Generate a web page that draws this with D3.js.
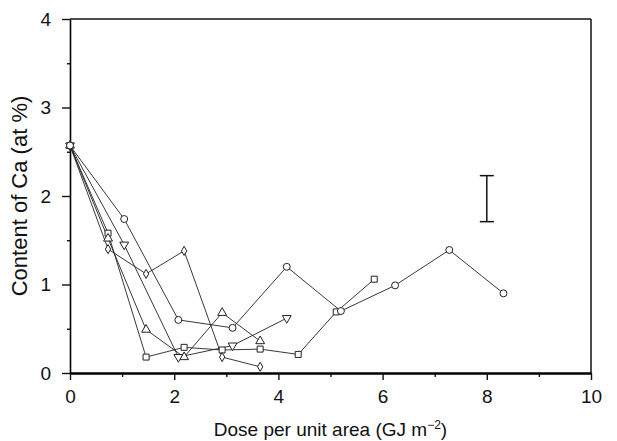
<!DOCTYPE html>
<html>
<head>
<meta charset="utf-8">
<script src="https://cdn.jsdelivr.net/npm/d3@7"></script>
<style>
  body { margin: 0; background: #fff; }
  text { font-family: "Liberation Sans", Arial, sans-serif; fill: #111; }
</style>
</head>
<body>
<div id="area_1"></div>
<script>
// Ca content vs dose, five runs (marker shape per run)
var circle_x = [0, 1.04, 2.08, 3.12, 4.16, 5.2, 6.24, 7.28, 8.32]
var circle_y = [2.57, 1.74, 0.6, 0.51, 1.2, 0.7, 0.99, 1.39, 0.9]

var square_x = [0, 0.73, 1.46, 2.19, 2.92, 3.65, 4.38, 5.11, 5.84]
var square_y = [2.57, 1.58, 0.18, 0.29, 0.26, 0.27, 0.21, 0.69, 1.06]

var triup_x = [0, 0.73, 1.46, 2.19, 2.92, 3.65]
var triup_y = [2.57, 1.52, 0.49, 0.18, 0.68, 0.36]

var tridown_x = [0, 1.04, 2.08, 3.12, 4.16]
var tridown_y = [2.57, 1.45, 0.18, 0.31, 0.62]

var diamond_x = [0, 0.73, 1.46, 2.19, 2.92, 3.65]
var diamond_y = [2.57, 1.4, 1.12, 1.38, 0.18, 0.07]

// error bar shown at x = 8
var errbar_x = 8
var errbar_lo = 1.71, errbar_hi = 2.23

var x_ticks = [0, 2, 4, 6, 8, 10]
var y_ticks = [0, 1, 2, 3, 4]

var margin_top = 19,
margin_right = 26,
margin_bottom = 68,
margin_left = 70

var W = 617, H = 441
var width = W - margin_left - margin_right
var height = H - margin_top - margin_bottom

var svg = d3.select("#area_1")
  .append("svg")
    .attr("width", W)
    .attr("height", H)

var g = svg.append("g")
  .attr("transform", "translate(" + margin_left + "," + margin_top + ")")

var x = d3.scaleLinear().domain([0, 10]).range([0, width])
var y = d3.scaleLinear().domain([0, 4]).range([height, 0])

// minor ticks (odd / half values)
g.append("g")
  .attr("transform", "translate(0," + height + ")")
  .call(d3.axisBottom(x).tickValues(d3.range(1, 10, 2)).tickSize(4).tickFormat(""))
  .call(function(a) { a.select(".domain").remove() })
g.append("g")
  .call(d3.axisLeft(y).tickValues(d3.range(0.5, 4, 1)).tickSize(3).tickFormat(""))
  .call(function(a) { a.select(".domain").remove() })

var xAxis = g.append("g")
  .attr("transform", "translate(0," + height + ")")
  .call(d3.axisBottom(x).tickValues(x_ticks).tickFormat(d3.format("d")).tickSize(7).tickSizeOuter(0).tickPadding(10))
xAxis.select(".domain").attr("stroke-width", 2.4)
xAxis.selectAll("text").attr("font-size", "19px")

var yAxis = g.append("g")
  .call(d3.axisLeft(y).tickValues(y_ticks).tickFormat(d3.format("d")).tickSize(8).tickSizeOuter(0).tickPadding(11))
yAxis.select(".domain").attr("stroke-width", 1.6)
yAxis.selectAll("text").attr("font-size", "19px")

g.selectAll(".tick line").attr("stroke", "#111").attr("stroke-width", 1.4)

// top and right frame
g.append("line")
  .attr("x1", 0).attr("x2", width).attr("y1", 0).attr("y2", 0)
  .attr("stroke", "#111").attr("stroke-width", 1.5)
g.append("line")
  .attr("x1", width).attr("x2", width).attr("y1", 0).attr("y2", height)
  .attr("stroke", "#111").attr("stroke-width", 1.5)

// axis titles
svg.append("text")
  .attr("x", margin_left + width / 2)
  .attr("y", 436)
  .attr("text-anchor", "middle")
  .attr("font-size", "19px")
  .html("Dose per unit area (GJ m<tspan dy='-7' font-size='12px'>\u22122</tspan><tspan dy='7'>)</tspan>")

svg.append("text")
  .attr("transform", "translate(27," + (margin_top + height / 2) + ") rotate(-90)")
  .attr("text-anchor", "middle")
  .attr("font-size", "22px")
  .text("Content of Ca (at %)")

// circles last so the shared start point shows a circle
var series = [
  { xs: square_x, ys: square_y, shape: "square" },
  { xs: triup_x, ys: triup_y, shape: "triup" },
  { xs: tridown_x, ys: tridown_y, shape: "tridown" },
  { xs: diamond_x, ys: diamond_y, shape: "diamond" },
  { xs: circle_x, ys: circle_y, shape: "circle" }
]

var line = d3.line()
  .x(function(d) { return x(d[0]) })
  .y(function(d) { return y(d[1]) })

series.forEach(function(s) {
  var pts = s.xs.map(function(v, i) { return [v, s.ys[i]] })
  g.append("path")
    .datum(pts)
    .attr("d", line)
    .attr("fill", "none")
    .attr("stroke", "#222")
    .attr("stroke-width", 0.9)
})

function symbolFor(shape) {
  if (shape == "circle") return d3.symbol().type(d3.symbolCircle).size(38)()
  if (shape == "square") return d3.symbol().type(d3.symbolSquare).size(36)()
  if (shape == "diamond") return d3.symbol().type(d3.symbolDiamond).size(24)()
  return d3.symbol().type(d3.symbolTriangle).size(34)()
}

series.forEach(function(s) {
  var pts = s.xs.map(function(v, i) { return [v, s.ys[i]] })
  g.selectAll(null)
    .data(pts)
    .enter()
    .append("path")
      .attr("d", symbolFor(s.shape))
      .attr("transform", function(d) {
        var t = "translate(" + x(d[0]) + "," + y(d[1]) + ")"
        if (s.shape == "tridown") t += " rotate(180)"
        return t
      })
      .style("fill", "white")
      .style("stroke", "#222")
      .style("stroke-width", 1)
})

// error bar
var cap = 7
g.append("line")
  .attr("x1", x(errbar_x)).attr("x2", x(errbar_x))
  .attr("y1", y(errbar_lo)).attr("y2", y(errbar_hi))
  .attr("stroke", "#111").attr("stroke-width", 1.5)
;[errbar_lo, errbar_hi].forEach(function(v) {
  g.append("line")
    .attr("x1", x(errbar_x) - cap).attr("x2", x(errbar_x) + cap)
    .attr("y1", y(v)).attr("y2", y(v))
    .attr("stroke", "#111").attr("stroke-width", 1.5)
})
</script>
</body>
</html>
